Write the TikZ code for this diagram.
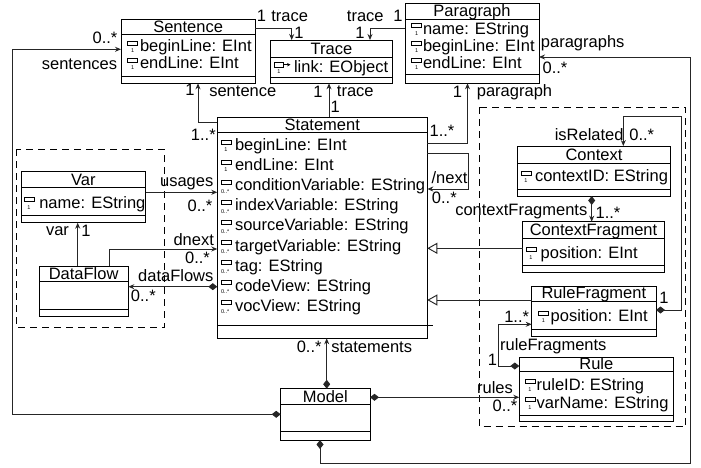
\documentclass[tikz,border=0pt]{standalone}
\usepackage{fontspec}
\setmainfont{Liberation Sans}
\usetikzlibrary{arrows.meta}

\tikzset{
 classbox/.style={draw=black, fill=white, line width=0.95pt, inner sep=0pt, outer sep=0pt},
 classline/.style={draw=black, line width=0.95pt},
 txt/.style={font=\fontsize{16.5}{19}\selectfont, inner sep=0pt, outer sep=0pt},
 mult/.style={font=\fontsize{5.5}{6}\selectfont, inner sep=0pt, outer sep=0pt},
 icon/.style={draw=black, line width=0.7pt},
 conn/.style={draw=black!85, line width=0.95pt},
 nav/.style={conn, -{Stealth[length=6pt,width=5pt]}},
 comp/.style={conn, {Diamond[length=9pt,width=7pt]}-{Stealth[length=6pt,width=5pt]}},
 gen/.style={conn, -{Triangle[open,length=10pt,width=11pt,fill=white]}},
 pkg/.style={draw=black, line width=0.95pt, dash pattern=on 7pt off 5pt},
}

% name, x1, y1, x2, y2, header line y, separator y, title, title baseline
\newcommand\umlclass[9]{%
 \node[classbox, minimum width={(#4-#2)*1pt}, minimum height={(#5-#3)*1pt}, anchor=north west] (#1) at (#2,#3) {};
 \draw[classline] (#2,#6) -- (#4,#6);
 \draw[classline] (#2,#7) -- (#4,#7);
 \node[txt, anchor=base] (#1t) at ({(#2+#4)/2},#9) {#8};
}
% name, icon x, text x, baseline, text
\newcommand\attrone[5]{%
 \node[txt, anchor=base west] (#1) at (#3,#4) {#5};
 \draw[icon] (#2,#4-10.5) rectangle ++(10,4);
 \node[mult, anchor=base] (#1m) at (#2+5,#4+1) {1};
}
\newcommand\attrmany[5]{%
 \node[txt, anchor=base west] (#1) at (#3,#4) {#5};
 \draw[icon] (#2,#4-10.5) rectangle ++(10,4);
 \node[mult, anchor=base west] (#1m) at (#2,#4+2.5) {0..*};
}
\newcommand\lbl[4]{\node[txt, anchor=base] (#1) at (#2,#3) {#4};}

\begin{document}
\begin{tikzpicture}[x=1pt,y=-1pt]
\useasboundingbox (0,0) rectangle (701,468);

% packages (dashed)
\draw[pkg] (16.7,149.3) rectangle (164.3,327.7);
\draw[pkg] (479,107.3) rectangle (685.5,426.7);

% classes
\umlclass{sentence}{121}{19.3}{255.3}{83.3}{34}{76}{Sentence}{32.3}
\umlclass{trace}{270.7}{40}{392.3}{83.3}{57.3}{77.3}{Trace}{54.5}
\umlclass{para}{405}{3.3}{539}{83.3}{19.5}{74}{Paragraph}{16.7}
\umlclass{stmt}{217.3}{117.3}{427.3}{338.3}{132.3}{325}{Statement}{130.7}
\draw[classline] (427.3,325) -- (432.7,325);
\umlclass{var}{21}{171.7}{145.7}{222.7}{187.3}{215}{Var}{185}
\umlclass{dflow}{39}{266}{128.3}{316.7}{281.7}{309.3}{DataFlow}{279.5}
\umlclass{context}{517.3}{146}{670.7}{196}{163.3}{189.3}{Context}{160}
\umlclass{cfrag}{522.7}{221.7}{664.3}{272.3}{238.3}{265}{ContextFragment}{235.5}
\umlclass{rfrag}{531.7}{286}{656}{336}{301}{329.3}{RuleFragment}{298}
\umlclass{rule}{519.3}{357.7}{673.3}{421.7}{371}{415}{Rule}{369.5}
\umlclass{model}{280.7}{388.7}{370}{440}{404.3}{431.7}{Model}{402}

% attributes
\attrone{sa1}{127.7}{140}{52}{beginLine: EInt}
\attrone{sa2}{127.7}{140}{69}{endLine: EInt}
\node[txt, anchor=base west] (ta1) at (294,72.5) {link: EObject};
\draw[icon] (274,62.5) rectangle ++(9,4.5);
\draw[icon, -{Stealth[length=3.5pt,width=3.5pt]}] (283,64.7) -- (290.5,64.7);
\node[mult, anchor=base] (ta1m) at (279,73.5) {1};
\attrone{pa1}{411.7}{423}{34.3}{name: EString}
\attrone{pa2}{411.7}{423}{51.5}{beginLine: EInt}
\attrone{pa3}{411.7}{423}{69}{endLine: EInt}
\attrone{st1}{221}{235}{150.5}{beginLine: EInt}
\attrone{st2}{221}{235}{170.6}{endLine: EInt}
\attrmany{st3}{221}{235}{190.7}{conditionVariable: EString}
\attrmany{st4}{221}{235}{210.8}{indexVariable: EString}
\attrmany{st5}{221}{235}{230.9}{sourceVariable: EString}
\attrmany{st6}{221}{235}{251}{targetVariable: EString}
\attrmany{st7}{221}{235}{271.1}{tag: EString}
\attrmany{st8}{221}{235}{291.2}{codeView: EString}
\attrmany{st9}{221}{235}{311.3}{vocView: EString}
\attrone{va1}{24}{39.3}{208}{name: EString}
\attrone{ca1}{521}{535}{181.5}{contextID: EString}
\attrone{cfa1}{526}{540.7}{258.3}{position: EInt}
\attrone{rfa1}{538.3}{550.7}{321.7}{position: EInt}
\attrone{ra1}{525}{536.7}{390}{ruleID: EString}
\attrone{ra2}{525}{536.7}{408.3}{varName: EString}

% connector bend points
\coordinate (b1) at (198,122);
\coordinate (b2) at (291.7,28.7);
\coordinate (b3) at (370,28.7);
\coordinate (b4) at (329,100);
\coordinate (b5) at (467.5,143);
\coordinate (n1) at (468,153);
\coordinate (n2) at (468,189);
\coordinate (u) at (180,192.3);
\coordinate (v) at (77.7,240);
\coordinate (d) at (109,249);
\coordinate (df) at (170,286.7);
\coordinate (st) at (326.7,360);
\coordinate (s1) at (12.7,414.3);
\coordinate (s2) at (12.7,49.3);
\coordinate (p1) at (320,463.3);
\coordinate (p2) at (690.5,463.3);
\coordinate (p3) at (690.5,57);
\coordinate (r) at (450,397.3);
\coordinate (f1) at (498.3,366);
\coordinate (f2) at (498.3,324.3);
\coordinate (cf) at (591.7,210);
\coordinate (i1) at (681,310);
\coordinate (i2) at (681,116.7);
\coordinate (i3) at (623.3,116.7);
\coordinate (g1) at (480,248.3);
\coordinate (g2) at (480,300);

% connectors
\draw[nav] (b1 -| stmt.west) -- (b1) -- (b1 |- sentence.south);
\draw[nav] (b2 -| sentence.east) -- (b2) -- (b2 |- trace.north);
\draw[nav] (b3 -| para.west) -- (b3) -- (b3 |- trace.north);
\draw[nav] (b4 |- stmt.north) -- (b4 |- trace.south);
\draw[nav] (b5 -| stmt.east) -- (b5) -- (b5 |- para.south);
\draw[nav] (n1 -| stmt.east) -- (n1) -- (n2) -- (n2 -| stmt.east);
\draw[nav] (u -| var.east) -- (u -| stmt.west);
\draw[nav] (v |- dflow.north) -- (v |- var.south);
\draw[nav] (d |- dflow.north) -- (d) -- (d -| stmt.west);
\draw[comp] (df -| stmt.west) -- (df -| dflow.east);
\draw[comp] (st |- model.north) -- (st |- stmt.south);
\draw[comp] (s1 -| model.west) -- (s1) -- (s2) -- (s2 -| sentence.west);
\draw[comp] (p1 |- model.south) -- (p1) -- (p2) -- (p3) -- (p3 -| para.east);
\draw[comp] (r -| model.east) -- (r -| rule.west);
\draw[comp] (f1 -| rule.west) -- (f1) -- (f2) -- (f2 -| rfrag.west);
\draw[comp] (cf |- context.south) -- (cf |- cfrag.north);
\draw[comp] (i1 -| rfrag.east) -- (i1) -- (i2) -- (i3) -- (i3 |- context.north);
\draw[gen] (g1 -| cfrag.west) -- (g1 -| stmt.east);
\draw[gen] (g2 -| rfrag.west) -- (g2 -| stmt.east);

% labels
\lbl{l1}{190}{96}{1}
\lbl{l2}{242.8}{97}{sentence}
\lbl{l3}{203.3}{140}{1..*}
\lbl{l4}{261.5}{22}{1}
\lbl{l5}{289.7}{22}{trace}
\lbl{l6}{299}{38.3}{1}
\lbl{l7}{365.3}{22}{trace}
\lbl{l8}{398}{22}{1}
\lbl{l9}{360}{38.3}{1}
\lbl{l10}{318}{98}{1}
\lbl{l11}{355.3}{96.7}{trace}
\lbl{l12}{335.3}{113}{1}
\lbl{l13}{457.5}{97.7}{1}
\lbl{l14}{514.5}{96.7}{paragraph}
\lbl{l15}{442}{136.7}{1..*}
\lbl{l16}{449.5}{183.3}{/next}
\lbl{l17}{444.3}{203.3}{0..*}
\lbl{l18}{186.7}{186.7}{usages}
\lbl{l19}{200}{211.7}{0..*}
\lbl{l20}{57.5}{235}{var}
\lbl{l21}{86}{236}{1}
\lbl{l22}{193.7}{245}{dnext}
\lbl{l23}{197.5}{263.3}{0..*}
\lbl{l24}{175.8}{281.7}{dataFlows}
\lbl{l25}{143.3}{301.7}{0..*}
\lbl{l26}{309.2}{352.7}{0..*}
\lbl{l27}{371.7}{352.7}{statements}
\lbl{l28}{105}{43.3}{0..*}
\lbl{l29}{79.5}{70}{sentences}
\lbl{l30}{582.7}{47.7}{paragraphs}
\lbl{l31}{555}{73.3}{0..*}
\lbl{l32}{495}{393.3}{rules}
\lbl{l33}{505}{411.7}{0..*}
\lbl{l34}{516.7}{322}{1..*}
\lbl{l35}{553.3}{350}{ruleFragments}
\lbl{l36}{492.5}{365}{1}
\lbl{l37}{521.3}{215}{contextFragments}
\lbl{l38}{608}{218.3}{1..*}
\lbl{l39}{589.2}{140}{isRelated}
\lbl{l40}{641.7}{140}{0..*}
\lbl{l41}{664}{303.3}{1}
\end{tikzpicture}
\end{document}
